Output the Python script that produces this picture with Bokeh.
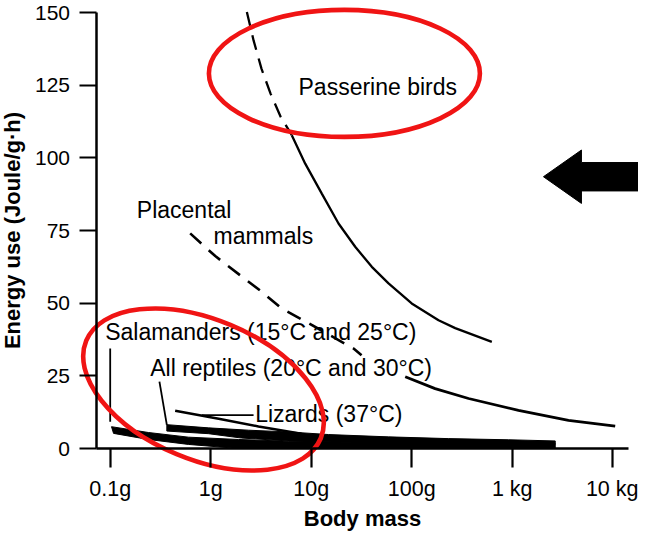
import numpy as np
from bokeh.plotting import figure
from bokeh.models import LinearAxis, LogAxis, FixedTicker, LogScale, Range1d
from bokeh.core.properties import value
from bokeh.embed import file_html
from bokeh.resources import INLINE

# ---------------- data ----------------
tick_mass = [0.1, 1, 10, 100, 1000, 10000]
tick_mass_labels = ["0.1g", "1g", "10g", "100g", "1 kg", "10 kg"]
tick_energy = [0, 25, 50, 75, 100, 125, 150]

passerine_dash_mass = [2.29, 2.67, 3.20, 3.94, 4.95, 6.41]
passerine_dash_energy = [150.2, 140.4, 130.7, 122.1, 114.2, 107.8]
passerine_mass = [6.41, 8.72, 12.75, 18.7, 27.4, 40.1, 58.8, 100, 185, 271, 627]
passerine_energy = [107.8, 98.0, 87.7, 77.4, 69.4, 62.5, 56.8, 49.9, 44.1, 41.4, 36.7]

placental_dash_mass = [0.625, 1.11, 2.03, 3.20, 5.07, 8.78, 26.4, 31.7]
placental_dash_energy = [74.0, 66.2, 59.2, 54.0, 48.2, 43.7, 34.4, 32.1]
placental_mass = [86.2, 171, 368, 1155, 3633, 10590]
placental_energy = [24.7, 20.6, 17.2, 13.1, 9.7, 7.7]

salamander_top_mass = [0.103, 0.240, 0.601, 1.89, 5.94, 58.7, 2680]
salamander_top_energy = [7.5, 5.5, 3.9, 3.1, 2.5, 2.0, 1.65]
salamander_bottom_mass = [0.108, 0.240, 0.601, 1.89, 2680]
salamander_bottom_energy = [5.2, 3.1, 1.4, 0.0, 0.0]

reptile_top_mass = [0.366, 0.951, 2.38, 5.94, 14.9, 58.7, 232, 918, 2680]
reptile_top_energy = [8.2, 7.1, 6.3, 5.7, 4.8, 4.0, 3.4, 3.0, 2.6]
reptile_bottom_mass = [0.366, 0.951, 2.02, 5.94, 58.7, 2680]
reptile_bottom_energy = [6.0, 5.1, 3.6, 2.6, 1.8, 1.5]

lizard_mass = [0.443, 1.20, 2.99, 8.0]
lizard_energy = [13.0, 10.2, 7.6, 5.1]

# leader lines (mass pairs, energy pairs)
leader_mass = [[0.1, 0.1], [0.309, 0.366], [0.815, 2.67]]
leader_energy = [[34.4, 9.2], [23.0, 8.1], [11.46, 11.46]]

# annotation labels and their anchors (left / baseline)
label_text = ["Passerine birds", "Placental", "mammals",
              "Salamanders (15°C and 25°C)", "All reptiles (20°C and 30°C)",
              "Lizards (37°C)"]
label_mass = [7.48, 0.184, 1.066, 0.0892, 0.250, 2.77]
label_energy = [124.2, 82.2, 73.1, 40.15, 27.8, 11.7]

# ---------------- layout ----------------
W, H = 638, 532
PX_PER_DECADE = 100.5          # horizontal scale of the original
PX_PER_UNIT = 436 / 150        # vertical scale of the original
X_TICK01_PX, Y_ZERO_PX = 109.7, 448   # where 0.1 g and 0 J sit on the canvas
x_start = 10 ** (-1 - X_TICK01_PX / PX_PER_DECADE)
x_end = 10 ** (-1 + (W - X_TICK01_PX) / PX_PER_DECADE)
y_start = -(H - Y_ZERO_PX) / PX_PER_UNIT
y_end = Y_ZERO_PX / PX_PER_UNIT
y_axis_at = 0.0739      # body mass where the energy axis stands
x_axis_end = 14355

p = figure(width=W, height=H, x_axis_type=None, y_axis_type=None,
           x_range=Range1d(x_start, x_end), y_range=Range1d(y_start, y_end),
           toolbar_location=None, output_backend="svg", min_border=0,
           outline_line_color=None, background_fill_color="white",
           border_fill_color="white")
p.x_scale = LogScale()

FONT = "Liberation Sans"

xaxis = LogAxis(fixed_location=0, bounds=(y_axis_at, x_axis_end),
                ticker=FixedTicker(ticks=tick_mass),
                major_label_overrides=dict(zip(tick_mass, tick_mass_labels)),
                axis_label="Body mass")
yaxis = LinearAxis(fixed_location=y_axis_at, bounds=(0, 150),
                   ticker=FixedTicker(ticks=tick_energy),
                   axis_label="Energy use (Joule/g·h)")
for ax in (xaxis, yaxis):
    ax.axis_line_width = 2.5
    ax.axis_line_color = "black"
    ax.major_tick_line_width = 2.2
    ax.major_tick_line_color = "black"
    ax.major_tick_in = 0
    ax.minor_tick_line_color = None
    ax.major_label_text_font = FONT
    ax.major_label_text_color = "black"
    ax.axis_label_text_font = FONT
    ax.axis_label_text_font_style = "bold"
    ax.axis_label_text_font_size = "22px"
    ax.axis_label_text_color = "black"
xaxis.major_tick_out = 19
xaxis.major_label_text_font_size = "21.5px"
xaxis.major_label_standoff = 9
xaxis.axis_label_standoff = 2
yaxis.major_tick_out = 17
yaxis.major_label_text_font_size = "21px"
yaxis.major_label_standoff = 10
yaxis.axis_label_standoff = 6
p.add_layout(xaxis, "below")
p.add_layout(yaxis, "left")

# bands (thick black strips)
p.patch(salamander_top_mass + salamander_bottom_mass[::-1],
        salamander_top_energy + salamander_bottom_energy[::-1],
        fill_color="black", line_color="black", line_width=1)
p.patch(reptile_top_mass + reptile_bottom_mass[::-1],
        reptile_top_energy + reptile_bottom_energy[::-1],
        fill_color="black", line_color="black", line_width=1)
p.line(lizard_mass, lizard_energy, line_color="black", line_width=2.5)

# curves
p.line(passerine_dash_mass, passerine_dash_energy, line_color="black",
       line_width=2.3, line_dash="15 9")
p.line(passerine_mass, passerine_energy, line_color="black", line_width=2.3)
p.line(placental_dash_mass, placental_dash_energy, line_color="black",
       line_width=2.6, line_dash="15 10")
p.line(placental_mass, placental_energy, line_color="black", line_width=2.8)

# leaders
p.multi_line(leader_mass, leader_energy, line_color="black", line_width=1.8)

# labels
p.text(x=label_mass, y=label_energy, text=label_text,
       text_font=value(FONT), text_font_size="23px", text_color="black",
       text_align="left", text_baseline="alphabetic")

# red highlight ellipses
RED = "#f01414"
p.ellipse(x=[21.4], y=[129.05], width=[271], height=[127],
          width_units="screen", height_units="screen",
          fill_color=None, line_color=RED, line_width=4.6)
p.ellipse(x=[0.848], y=[20.3], width=[254], height=[140], angle=[-0.394],
          width_units="screen", height_units="screen",
          fill_color=None, line_color=RED, line_width=4.6)

# black arrow pointing left
ppd = W / (np.log10(x_end) - np.log10(x_start))
ppu = H / (y_end - y_start)
tip_mass, tip_energy = 2046, 93.5
arrow_dx = np.array([0, 38, 38, 130, 130, 38, 38])
arrow_dy = np.array([0, -26.7, -14.2, -14.2, 14.2, 14.2, 26.7])
p.patch(tip_mass * 10 ** (arrow_dx / ppd), tip_energy - arrow_dy / ppu,
        fill_color="black", line_color="black", line_width=1)

open("out.html", "w").write(file_html(p, INLINE))
